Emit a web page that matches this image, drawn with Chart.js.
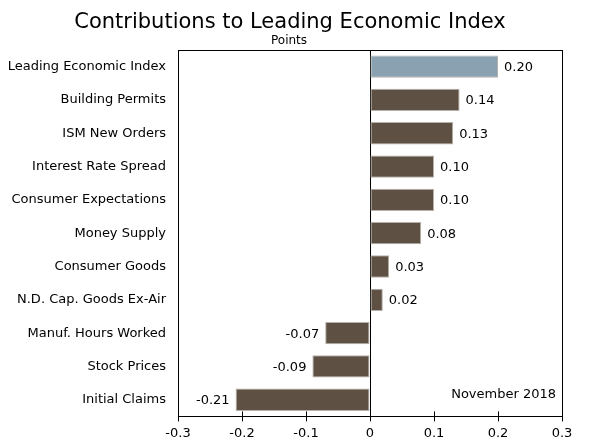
<!DOCTYPE html>
<html>
<head>
<meta charset="utf-8">
<script src="https://cdn.jsdelivr.net/npm/chart.js@4.4.0/dist/chart.umd.min.js"></script>
<style>
  html, body { margin: 0; padding: 0; background: #fff; }
  #wrap { width: 600px; height: 448px; }
</style>
</head>
<body>
<div id="wrap"><canvas id="c"></canvas></div>
<script>
// valores (pontos)
const categorias = ['Leading Economic Index', 'Building Permits', 'ISM New Orders', 'Interest Rate Spread',
  'Consumer Expectations', 'Money Supply', 'Consumer Goods', 'N.D. Cap. Goods Ex-Air',
  'Manuf. Hours Worked', 'Stock Prices', 'Initial Claims'];
const contribuicoes = [0.20, 0.14, 0.13, 0.10, 0.10, 0.08, 0.03, 0.02, -0.07, -0.09, -0.21];
const ticksX = [-0.3, -0.2, -0.1, 0, 0.1, 0.2, 0.3];
const titulo = 'Contributions to Leading Economic Index';
const subtitulo = 'Points';
const nota = 'November 2018';

const FONTE = "'DejaVu Sans', Verdana, sans-serif";
const corBarra = categorias.map((c, i) => i === 0 ? '#8aa1b1' : '#5e5043');

// título, moldura, marcas internas do eixo x, rótulos dos valores e a nota
const extras = {
  id: 'extras',
  afterDatasetsDraw(chart) {
    const { ctx, chartArea: a, scales: { x } } = chart;
    ctx.save();
    ctx.fillStyle = '#000';
    ctx.textAlign = 'center';
    ctx.textBaseline = 'alphabetic';
    ctx.font = `21px ${FONTE}`;
    ctx.fillText(titulo, 290, 28);
    ctx.font = `12px ${FONTE}`;
    ctx.fillText(subtitulo, 289, 44);

    ctx.strokeStyle = '#000';
    ctx.lineWidth = 1;
    ctx.strokeRect(Math.round(a.left) + 0.5, Math.round(a.top) + 0.5, Math.round(a.right - a.left), Math.round(a.bottom - a.top));
    ticksX.forEach(t => {
      const px = Math.round(x.getPixelForValue(t)) + 0.5;
      ctx.beginPath(); ctx.moveTo(px, a.bottom); ctx.lineTo(px, a.bottom - 5); ctx.stroke();
    });
    ctx.font = `13px ${FONTE}`;
    ctx.textBaseline = 'middle';
    chart.getDatasetMeta(0).data.forEach((bar, i) => {
      const v = contribuicoes[i];
      ctx.textAlign = v >= 0 ? 'left' : 'right';
      ctx.fillText(v.toFixed(2), bar.x + (v >= 0 ? 6 : -6), bar.y + 1);
    });
    ctx.textAlign = 'right';
    ctx.fillText(nota, a.right - 6, a.bottom - 22);
    ctx.restore();
  }
};

new Chart(document.getElementById('c'), {
  type: 'bar',
  data: {
    labels: categorias,
    datasets: [{
      data: contribuicoes,
      backgroundColor: corBarra,
      borderColor: '#b5b0aa',
      borderWidth: 1,
      borderSkipped: false,
      categoryPercentage: 1,
      barPercentage: 0.67,
    }]
  },
  options: {
    indexAxis: 'y',
    responsive: true,
    maintainAspectRatio: false,
    animation: false,
    layout: { padding: { left: 6, right: 38, top: 50, bottom: 3 } },
    plugins: {
      legend: { display: false },
      tooltip: { enabled: false },
    },
    scales: {
      x: {
        min: -0.3, max: 0.3,
        afterBuildTicks: s => { s.ticks = ticksX.map(v => ({ value: v })); },
        ticks: { color: '#000', font: { family: FONTE, size: 13 }, padding: 4,
          callback: v => (Math.round(v * 10) / 10).toString() },
        grid: { color: ctx => ctx.tick && ctx.tick.value === 0 ? '#000' : 'rgba(0,0,0,0)',
          tickColor: '#000', tickLength: 5, drawOnChartArea: true },
        border: { color: '#000' },
      },
      y: {
        afterFit: s => { s.width = 172; },
        ticks: { color: '#000', font: { family: FONTE, size: 13 }, padding: 12 },
        grid: { display: false, drawTicks: false },
        border: { color: '#000' },
      }
    }
  },
  plugins: [extras]
});
</script>
</body>
</html>
